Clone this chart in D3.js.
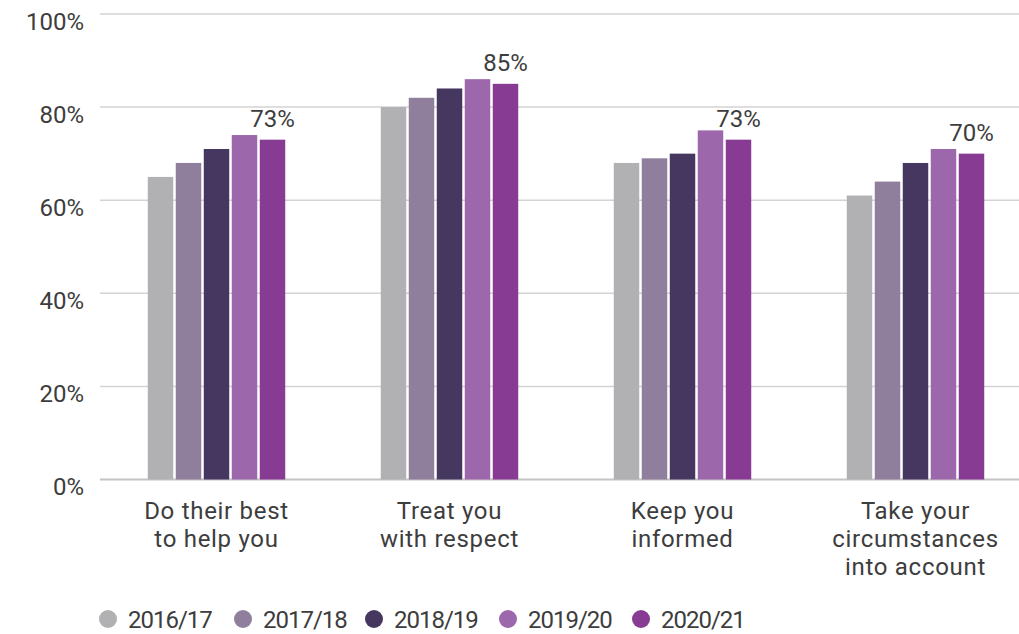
<!DOCTYPE html>
<html><head><meta charset="utf-8">
<script src="https://cdn.jsdelivr.net/npm/d3@7"></script>
<style>body{margin:0;background:#fff}svg{display:block}text{font-family:Roboto,"Noto Sans",sans-serif;fill:#3d3d3d}</style>
</head><body><svg id="c" width="1019" height="634"></svg>
<script>
const categories = [["Do their best","to help you"],["Treat you","with respect"],["Keep you","informed"],["Take your","circumstances","into account"]];
const seriesNames = ["2016/17","2017/18","2018/19","2019/20","2020/21"];
const v2016 = [65,80,68,61];
const v2017 = [68,82,69,64];
const v2018 = [71,84,70,68];
const v2019 = [74,86,75,71];
const v2020 = [73,85,73,70];
const colors = ["#b1b1b4","#8f7e9c","#453760","#9d68ab","#873b93"];
const yTicks = [0,20,40,60,80,100];
const values = [v2016,v2017,v2018,v2019,v2020];

const svg = d3.select("#c");
const x0 = d3.scaleBand().domain(d3.range(categories.length)).range([100,1032]).paddingInner(0.41).paddingOuter(0.205);
const x1 = d3.scaleBand().domain(d3.range(seriesNames.length)).range([0,x0.bandwidth()]).paddingInner(0.09);
const y = d3.scaleLinear().domain([0,100]).range([479.5,14]);

const grid = svg.append("g");
grid.selectAll("line").data(yTicks).join("line")
  .attr("x1",100).attr("x2",1019).attr("y1",d=>y(d)).attr("y2",d=>y(d))
  .attr("stroke",d=>d===0?"#c4c4c4":"#d3d3d3").attr("stroke-width",d=>d===0?2:1.5);
const yAxis = d3.axisLeft(y).tickValues(yTicks).tickFormat(d=>d+"%").tickSize(0).tickPadding(0);
const ya = svg.append("g").attr("transform","translate(84,0)").call(yAxis);
ya.select(".domain").remove();
ya.selectAll("text").attr("font-size",24).attr("fill","#3d3d3d").attr("font-family","Roboto").attr("dy","15");

const groups = svg.append("g").selectAll("g").data(categories).join("g")
  .attr("transform",(d,i)=>`translate(${x0(i)},0)`);
groups.selectAll("rect").data((d,i)=>values.map((s,j)=>({j,v:s[i]}))).join("rect")
  .attr("x",d=>x1(d.j)).attr("width",x1.bandwidth())
  .attr("y",d=>y(d.v)).attr("height",d=>y(0)-y(d.v)).attr("fill",d=>colors[d.j]);
groups.append("text").attr("text-anchor","middle").attr("font-size",24)
  .attr("x",x1(4)+x1.bandwidth()/2).attr("y",(d,i)=>y(v2020[i])-13)
  .text((d,i)=>v2020[i]+"%");

const labels = svg.append("g").selectAll("text").data(categories).join("text")
  .attr("text-anchor","middle").attr("font-size",24).attr("letter-spacing","0.7")
  .attr("x",(d,i)=>x0(i)+x0.bandwidth()/2).attr("y",519);
labels.selectAll("tspan").data(d=>d).join("tspan")
  .attr("x",function(){return this.parentNode.getAttribute("x");})
  .attr("dy",(d,k)=>k===0?0:28).text(d=>d);

const legX = [108,243,374,508,641];
const leg = svg.append("g").selectAll("g").data(seriesNames).join("g")
  .attr("transform",(d,i)=>`translate(${legX[i]},619)`);
leg.append("circle").attr("r",9).attr("fill",(d,i)=>colors[i]);
leg.append("text").attr("x",20).attr("y",9).attr("font-size",24).attr("letter-spacing","-1").text(d=>d);
</script></body></html>
